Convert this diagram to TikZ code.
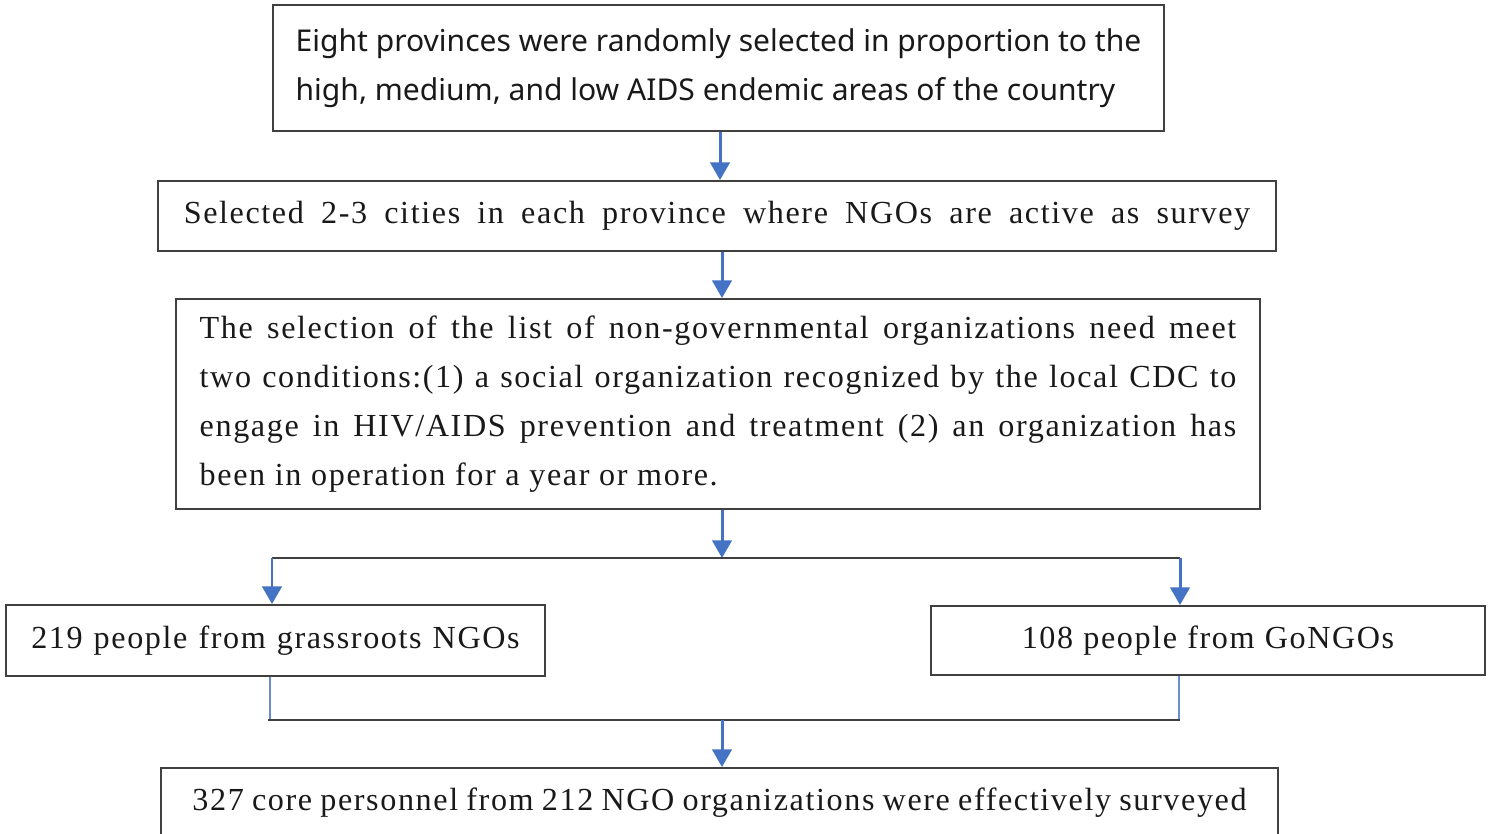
\documentclass[tikz,border=0pt]{standalone}
\usepackage{fontspec}
\setmainfont{Liberation Serif}
\newfontfamily\headfont{Noto Sans}
\newfontfamily\boxfont[LetterSpace=5]{Liberation Serif}
\usetikzlibrary{arrows.meta,calc}

\definecolor{flowblue}{HTML}{4472C4}
\definecolor{boxline}{HTML}{404040}

\tikzset{
	stepbox/.style={draw=boxline, line width=1.1pt, inner sep=0pt, text=black!90},
	flow/.style={draw=flowblue, line width=1.7pt, -{Triangle[width=11pt,length=10pt]}},
	feed/.style={draw=flowblue!80, line width=1pt},
	bar/.style={draw=boxline, line width=1.1pt},
}
% spread a line of box text to a fixed width
\newcommand{\spread}[2]{\makebox[#1][s]{#2}}

\begin{document}
\begin{tikzpicture}[x=0.02cm, y=-0.02cm]
		\clip (0,0) rectangle (1494,834);
		% boxes
		\node[stepbox, minimum width=17.82cm, minimum height=2.52cm, align=left,
			font=\headfont\fontsize{17.1}{27.8}\selectfont] (prov) at (718.5,68)
			{Eight provinces were randomly selected in proportion to the\\
			 high, medium, and low AIDS endemic areas of the country};
		\node[stepbox, minimum width=22.36cm, minimum height=1.4cm,
			font=\boxfont\fontsize{18.3}{27.8}\selectfont] (city) at (717,216)
			{\spread{607pt}{Selected 2-3 cities in each province where NGOs are active as survey}};
		\node[stepbox, minimum width=21.68cm, minimum height=4.2cm, align=left,
			font=\boxfont\fontsize{18.3}{27.8}\selectfont] (list) at (718,404)
			{\spread{590pt}{The selection of the list of non-governmental organizations need meet}\\
			 \spread{590pt}{two conditions:(1) a social organization recognized by the local CDC to}\\
			 \spread{590pt}{engage in HIV/AIDS prevention and treatment (2) an organization has}\\
			 been in operation for a year or more.};
		\node[stepbox, minimum width=10.78cm, minimum height=1.42cm,
			font=\boxfont\fontsize{18.3}{27.8}\selectfont] (grass) at (275.5,640.5)
			{\spread{278pt}{219 people from grassroots NGOs}};
		\node[stepbox, minimum width=11.08cm, minimum height=1.38cm,
			font=\boxfont\fontsize{18.3}{27.8}\selectfont] (gongo) at (1208,640.5)
			{\spread{212pt}{108 people from GoNGOs}};
		\node[stepbox, minimum width=22.34cm, minimum height=1.4cm,
			font=\boxfont\fontsize{18.3}{27.8}\selectfont] (core) at (719.5,803)
			{\spread{600pt}{327 core personnel from 212 NGO organizations were effectively surveyed}};
		% split and merge points
		\coordinate (splitM) at (722,558);
		\coordinate (splitL) at (272,558);
		\coordinate (splitR) at (1180,558);
		\coordinate (joinL) at (270,720);
		\coordinate (joinR) at (1179,720);
		\coordinate (joinM) at (722,720);
		% arrows down the chain
		\draw[flow] (prov.south -| 720,0) -- (city.north -| 720,0);
		\draw[flow] (city.south -| 722,0) -- (list.north -| 722,0);
		\draw[flow] (list.south -| splitM) -- (splitM);
		\draw[bar] (splitL) -- (splitR);
		\draw[flow] (splitL) -- (splitL |- grass.north);
		\draw[flow] (splitR) -- (splitR |- gongo.north);
		\draw[feed] (grass.south -| joinL) -- (joinL);
		\draw[feed] (gongo.south -| joinR) -- (joinR);
		\draw[bar] ($(joinL)+(-2,0)$) -- ($(joinR)+(1,0)$);
		\draw[flow] (joinM) -- (core.north -| joinM);
	\end{tikzpicture}
\end{document}
